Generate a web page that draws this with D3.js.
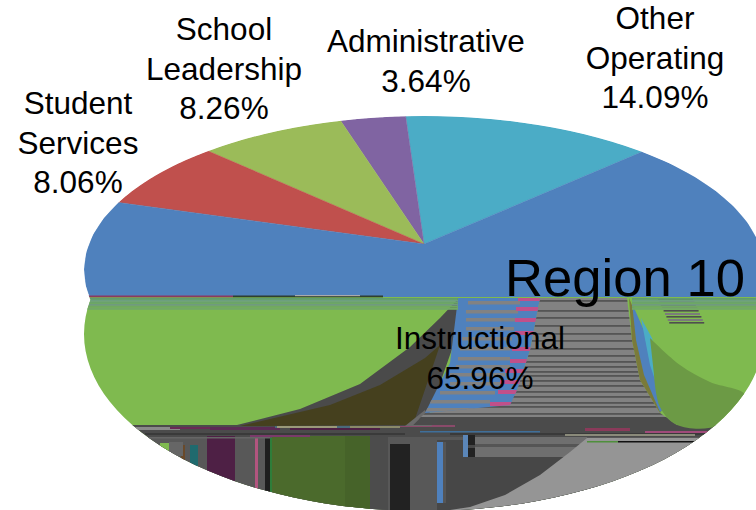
<!DOCTYPE html>
<html><head><meta charset="utf-8">
<script src="https://cdn.jsdelivr.net/npm/d3@7"></script>
<style>html,body{margin:0;padding:0;background:#fff}svg{display:block}text{font-family:"Liberation Sans",Arial,sans-serif;fill:#000}</style>
</head><body><svg id="c" width="756" height="510"></svg>
<script>
// Data, in pie order starting at the Other Operating slice and running counter-clockwise
const categories = ["Other Operating","Administrative","School Leadership","Student Services","Instructional"];
const shares = [14.09,3.64,8.26,8.06,65.96];
const labelLines = [["Other","Operating","14.09%"],["Administrative","3.64%"],["School","Leadership","8.26%"],["Student","Services","8.06%"],["Instructional","65.96%"]];
const sliceColors = ["#4bacc6","#8064a2","#9bbb59","#c0504d","#4f81bd"];
const title = "Region 10";

const svg = d3.select("#c");
const defs = svg.append("defs");
const W=756,H=510;
const apex=[424,244], topE={cx:424,cy:270,rx:340,ry:154}, low={cx:424,cy:334,rx:340,ry:177};
const rad=Math.PI/180;
const ell=(e,t)=>[e.cx+e.rx*Math.sin(t*rad),e.cy-e.ry*Math.cos(t*rad)];
const ellD=e=>`M${e.cx-e.rx},${e.cy}a${e.rx},${e.ry} 0 1,0 ${2*e.rx},0a${e.rx},${e.ry} 0 1,0 ${-2*e.rx},0Z`;
const total=d3.sum(shares);
// perspective tilt: pie share (cumulative) -> parameter on the top ellipse
const tilt=d3.scaleLinear().domain([0,0.3405,1]).range([39.9,-64,-320.1]);
const pie=d3.pie().sort(null).value(d=>d).startAngle(0).endAngle(1)(shares); // angles = fraction of the whole
defs.append("clipPath").attr("id","body").append("path").attr("d",ellD(topE)+ellD(low));
defs.append("clipPath").attr("id","upper").append("rect").attr("width",W).attr("height",297);
const root=svg.append("g").attr("clip-path","url(#body)");
const poly=(p,f,g=root)=>g.append("path").attr("d",d3.line().curve(d3.curveLinear)(p)+"Z").attr("fill",f);
const rect=(x,y,w,h,f,g=root)=>g.append("rect").attr("x",x).attr("y",y).attr("width",w).attr("height",h).attr("fill",f);
const curve=(p,f,g=root)=>g.append("path").attr("d",d3.line().curve(d3.curveCatmullRom)(p)).attr("fill",f);

// ---- corrupted side wall of the source rendering (below the top face) ----
rect(0,297,W,H-297,"#7fba4f");
// bottom band
rect(0,425,W,90,"#4b4b4b");
rect(0,437,W,80,"#585858");
// right light grey wedge + dark grey bottom panel
rect(437,440,160,80,"#474747");
rect(475,437,112,20,"#6f6f6f");
rect(475,444,112,3,"#555");
poly([[587,438],[W,438],[W,H],[450,H],[470,507],[505,495],[540,475],[570,452]],"#959595");
rect(587,441,31,1.5,"#4f8f3c");rect(618,441,80,1.5,"#111");
rect(468,435,7,10,"#222");rect(468,448,7,9,"#222");rect(463,435,5,22,"#5b86b8");
rect(437,442,6,61,"#4f81bd");rect(443,442,3,61,"#555");
rect(390,444,20,70,"#222");rect(370,437,18,80,"#4c4c4c");
rect(272,436,98,80,"#4b6a2c");rect(345,436,25,80,"#466329");
rect(265,438,5,55,"#1e1e1e");rect(255,436,3,55,"#b2557f");rect(270,438,2,55,"#2e7d3a");
rect(207,436,28,50,"#4e2045");rect(190,445,8,25,"#1f6a6e");rect(181,445,4,25,"#6a4a2a");
rect(160,443,9,10,"#7fba4f");rect(169,442,14,14,"#666");
// multicolour horizontal noise
[[135,427,45,3,"#8a8a8a"],[170,427,40,2,"#6a2a55"],[210,427,70,3,"#5c2a55"],[275,426,120,2,"#4a6a7a"],
 [277,426,60,2,"#9a9a7a"],[350,426,50,2,"#8a8a6a"],[290,428,90,2,"#4e2045"],[145,433,260,2,"#3a3a3a"],
 [140,437,130,1.5,"#666"],[250,435,60,2,"#7a3a6a"],[400,425,55,2,"#8a4a6a"],[420,431,120,1.5,"#3f6f9a"],
 [450,433,300,2,"#3a3a3a"],[585,428,45,3,"#8a3a5a"],[645,431,65,2,"#a04a7a"],[565,434,130,2,"#8a8a7a"]]
 .forEach(r=>rect(...r));

// left green shape: dark wedge and olive wedge beside it
poly([[233,426],[300,409],[360,384],[410,347],[440,318],[459,298],[470,298],[425,426]],"#4a4a4a");
poly([[240,426],[330,405],[380,385],[425,358],[440,345],[413,425]],"#45401e");
poly([[405,426],[425,410],[432,426]],"#6a6a6a");

// striped central pillars
const grayPillar=[[540,298],[627,298],[632,340],[640,380],[660,413],[677,425],[413,425],[425,413],[510,403],[517,390],[530,350]];
defs.append("clipPath").attr("id","gp").append("path").attr("d",d3.line()(grayPillar)+"Z");
const gp=root.append("g").attr("clip-path","url(#gp)");
rect(400,297,300,130,"#828282",gp);
[300,310,317,325,333,340,348,355,361,366,371,375,380,385,391,396,402,406,413,417].forEach(y=>rect(400,y,300,1.8,"#555",gp));
rect(400,417,300,10,"#4b4b4b",gp);
const bluePillar=[[458,298],[540,298],[530,350],[517,390],[510,405],[425,413],[450,363]];
defs.append("clipPath").attr("id","bp").append("path").attr("d",d3.line()(bluePillar)+"Z");
const bp=root.append("g").attr("clip-path","url(#bp)");
rect(420,297,130,120,"#4f81bd",bp);
[[301,468,520],[310,466,518],[318,466,516],[327,466,514],[337,462,512],[347,460,510],[357,458,510],[365,456,510],[373,450,505],[382,450,500],[391,440,495],[400,430,490],[408,425,480]]
 .forEach(([y,a,b])=>rect(a,y,b-a,3.5,"#828282",bp));
[[297,518,540],[307,516,540],[318,515,540],[331,515,540],[347,512,540],[359,510,540],[369,505,540],[380,500,540],[390,498,540],[402,490,512]]
 .forEach(([y,a,b])=>rect(a,y,b-a,4,"#c0508a",bp));
rect(430,298,5,2,"#c0508a",bp);

// right green: blue/teal strip and darker fold
poly([[629,298],[634,310],[640,340],[650,380],[662,410],[660,413],[640,380],[632,340]],"#7a7a3a");
poly([[632,303],[648,340],[668,405],[660,412],[644,375],[636,340]],"#4f81bd");
poly([[641,318],[652,338],[668,404],[660,395],[650,365]],"#4bacc6");
curve([[650,338],[680,365],[710,382],[745,395],[720,425],[677,425],[660,407],[654,375]],"#6c9a45");
// small striped triangle on the right
[298,301,304,307,310,313,316,319,322].forEach((y,i)=>{
  const a=658+i*1.4,b=693+i*1.4; rect(a,y,b-a,i%2?2:1.6,i%2?"#7b7b7b":"#4f4f4f");
});
// thin horizontal band at the top of the wall
[[298,"#5f9a70"],[300,"#6d9f80"],[302,"#6aa36a"],[304,"#6f9a7e"],[306,"#70a860"],[308,"#72a866"]].forEach(([y,f])=>{
  rect(0,y,458,1.8,f); rect(632,y,124,1.8,f);
});

// ---- top face, from the values ----
const face=root.append("g").attr("clip-path","url(#upper)");
pie.forEach((d,i)=>{
  const pts=d3.range(0,41).map(k=>ell(topE,tilt(d.startAngle+(d.endAngle-d.startAngle)*k/40)));
  face.append("path").attr("d",d3.line()([apex,...pts])+"Z").attr("fill",sliceColors[i]).attr("stroke",sliceColors[i]).attr("stroke-width",.4).attr("data-name",categories[i]).attr("data-share",(d.value/total).toFixed(4));
});
rect(87,295.5,146,1.8,"#8b3a60");rect(233,295.5,150,1.8,"#2f3f30");rect(295,295,65,1.2,"#aaa");

// ---- labels ----
const fs=31.5;
const labelAnchors=[[655,29],[426,52],[224,40],[78,114],[480,349]];
labelLines.forEach((lines,i)=>{
  const t=svg.append("text").attr("text-anchor","middle").attr("font-size",fs);
  lines.forEach((s,j)=>t.append("tspan").attr("x",labelAnchors[i][0]).attr("y",labelAnchors[i][1]+j*39.7).text(s));
});
svg.append("text").attr("x",625).attr("y",296).attr("text-anchor","middle").attr("font-size",52.6).text(title);
</script></body></html>
